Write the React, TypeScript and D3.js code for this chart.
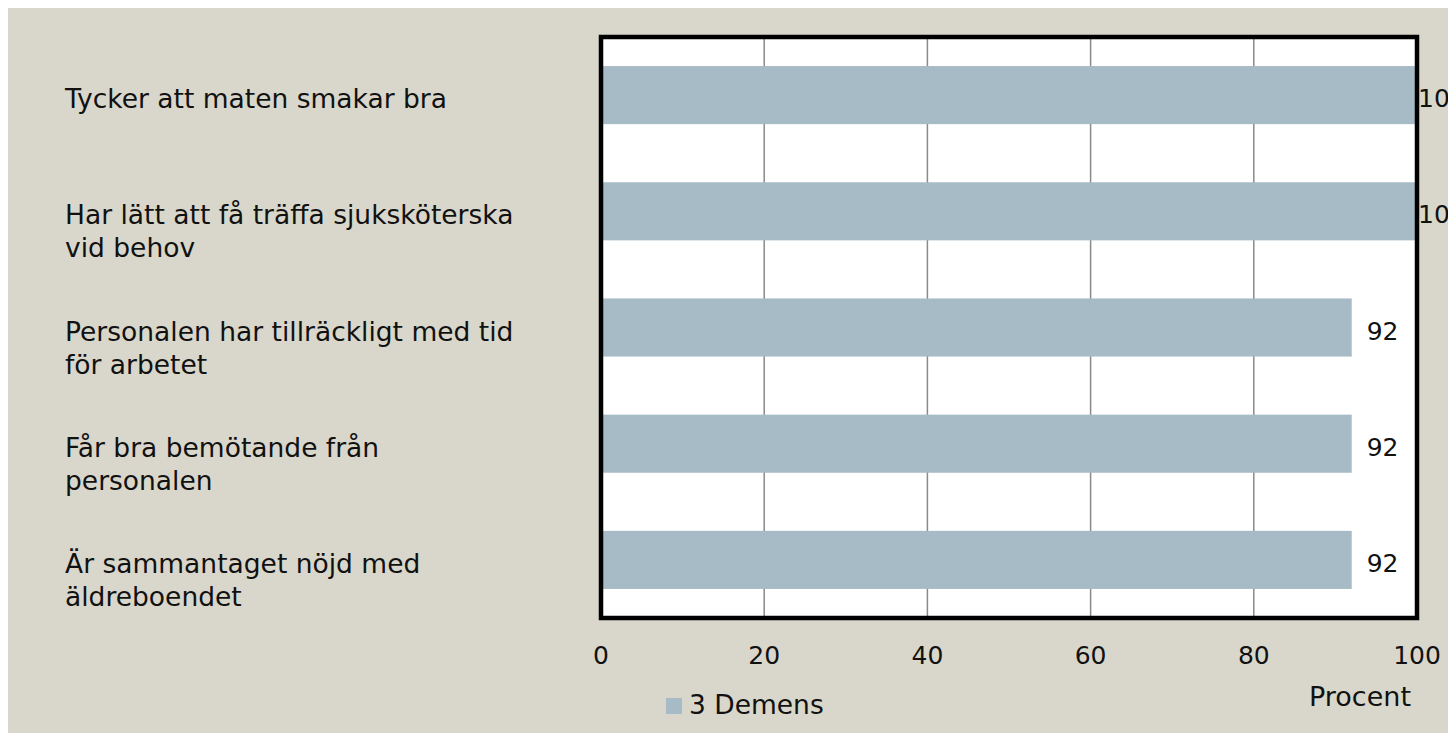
import { useEffect, useRef } from "react";
import * as d3 from "d3";

const CATEGORIES = [
  ["Tycker att maten smakar bra"],
  ["Har lätt att få träffa sjuksköterska", "vid behov"],
  ["Personalen har tillräckligt med tid", "för arbetet"],
  ["Får bra bemötande från", "personalen"],
  ["Är sammantaget nöjd med", "äldreboendet"],
];
const VALUES = [100, 100, 92, 92, 92];
const X_TICKS = [0, 20, 40, 60, 80, 100];
const SERIES_NAME = "3 Demens";
const AXIS_TITLE = "Procent";

const BG = "#d9d7cb";
const BAR = "#a7bbc6";
const FONT = "'DejaVu Sans', sans-serif";

export default function App() {
  const ref = useRef<SVGSVGElement>(null);

  useEffect(() => {
    const svg = d3.select(ref.current);
    svg.selectAll("*").remove();

    // page coordinates: shift by the body margin
    const g = svg.append("g").attr("transform", "translate(-8,-8)");

    g.append("rect").attr("x", 8).attr("y", 8).attr("width", 1448).attr("height", 733).attr("fill", BG);

    const left = 601, right = 1417, top = 37, bottom = 618;
    const x = d3.scaleLinear().domain([0, 100]).range([left, right]);
    const y = d3.scaleBand<number>()
      .domain(d3.range(VALUES.length))
      .range([top, bottom])
      .paddingInner(0.5)
      .paddingOuter(0.25);

    // plot area
    g.append("rect").attr("x", left).attr("y", top).attr("width", right - left).attr("height", bottom - top).attr("fill", "#fff");

    // gridlines
    g.selectAll(".grid")
      .data(X_TICKS.slice(1, -1))
      .join("line")
      .attr("x1", d => x(d)).attr("x2", d => x(d))
      .attr("y1", top).attr("y2", bottom)
      .attr("stroke", "#8a8a8a")
      .attr("stroke-width", 1.5);

    // bars
    g.selectAll(".bar")
      .data(VALUES)
      .join("rect")
      .attr("x", left)
      .attr("y", (_, i) => y(i)!)
      .attr("width", d => x(d) - left)
      .attr("height", y.bandwidth())
      .attr("fill", BAR);

    // frame
    g.append("rect")
      .attr("x", left).attr("y", top)
      .attr("width", right - left).attr("height", bottom - top)
      .attr("fill", "none").attr("stroke", "#000").attr("stroke-width", 4.5);

    // value labels
    g.selectAll(".val")
      .data(VALUES)
      .join("text")
      .attr("x", d => Math.min(x(d) + 15, right + 1))
      .attr("y", (_, i) => y(i)! + y.bandwidth() / 2 + 12)
      .attr("font-family", FONT)
      .attr("font-size", 25)
      .attr("fill", "#111")
      .text(d => d);

    // category labels
    const lab = g.selectAll(".cat")
      .data(CATEGORIES)
      .join("text")
      .attr("font-family", FONT)
      .attr("font-size", 26.5)
      .attr("fill", "#111");
    lab.each(function (lines, i) {
      const c = y(i)! + y.bandwidth() / 2;
      d3.select(this).selectAll("tspan")
        .data(lines)
        .join("tspan")
        .attr("x", 65)
        .attr("y", (_, j) => c + 13 + j * 33)
        .text(d => d);
    });

    // x tick labels
    g.selectAll(".tick")
      .data(X_TICKS)
      .join("text")
      .attr("x", d => x(d))
      .attr("y", 664)
      .attr("text-anchor", "middle")
      .attr("font-family", FONT)
      .attr("font-size", 25)
      .attr("fill", "#111")
      .text(d => d);

    g.append("text")
      .attr("x", 1360).attr("y", 706)
      .attr("text-anchor", "middle")
      .attr("font-family", FONT).attr("font-size", 27).attr("fill", "#111")
      .text(AXIS_TITLE);

    // legend
    g.append("rect").attr("x", 666).attr("y", 698).attr("width", 16).attr("height", 16).attr("fill", BAR);
    g.append("text")
      .attr("x", 689).attr("y", 714)
      .attr("font-family", FONT).attr("font-size", 26.5).attr("fill", "#111")
      .text(SERIES_NAME);
  }, []);

  return <svg ref={ref} width={1448} height={733} style={{ display: "block", marginBottom: -8 }} />;
}
